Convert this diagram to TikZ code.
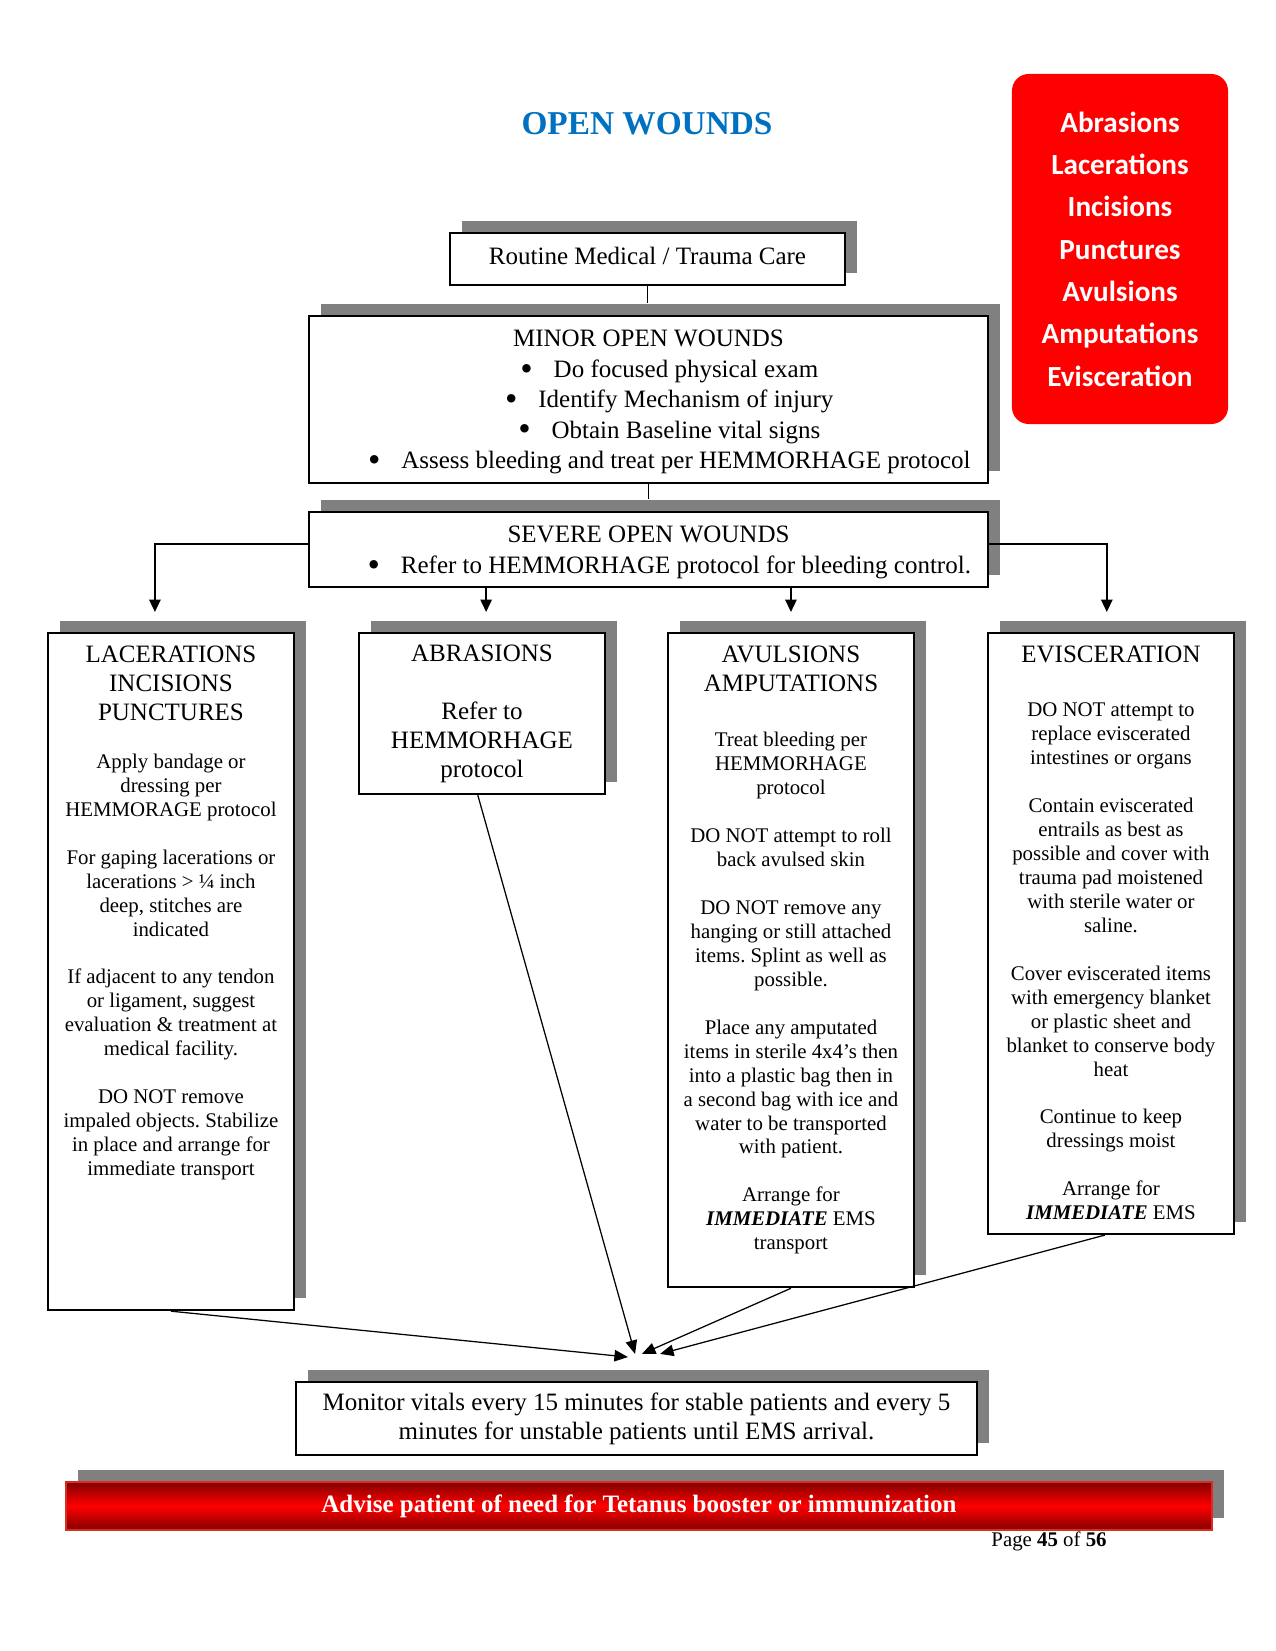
\documentclass[tikz,border=0pt]{standalone}
\usepackage{fontspec}
\setmainfont{Liberation Serif}
\newfontfamily\sidefont{Carlito}
\usetikzlibrary{shadows,arrows.meta}
\frenchspacing
\definecolor{titleblue}{RGB}{0,112,192}
\definecolor{shadegray}{RGB}{128,128,128}
\definecolor{sidered}{RGB}{255,0,0}
\definecolor{bandred}{RGB}{130,0,0}
\definecolor{bandedge}{RGB}{215,45,35}
\newcommand{\bul}[1]{\hspace*{20pt}\raisebox{-1.4pt}{\fontsize{17}{17}\selectfont\textbullet}\hspace{10pt}#1}
\newcommand{\hd}[1]{{\fontsize{12}{14}\selectfont #1}}
\tikzset{
  card/.style={draw=black, line width=1pt, fill=white, inner sep=0pt, align=center,
    drop shadow={shadow xshift=5.8pt, shadow yshift=5.8pt, fill=shadegray, opacity=1}},
  body/.style={align=center, inner sep=0pt, font=\fontsize{10}{11.5}\selectfont},
  sidebox/.style={fill=sidered, rounded corners=8pt, minimum width=103.7pt, minimum height=168pt,
    text=white, align=center, inner sep=0pt, font=\fontsize{14}{20.3}\sidefont\bfseries},
  banner/.style={draw=bandedge, line width=0.8pt, top color=bandred, bottom color=bandred,
    middle color=red, text=white, inner sep=0pt, font=\bfseries\fontsize{12}{14}\selectfont,
    drop shadow={shadow xshift=5.8pt, shadow yshift=5.8pt, fill=shadegray, opacity=1}},
  stemline/.style={line width=0.8pt},
  feedarrow/.style={line width=0.8pt, -{Triangle[length=6pt,width=5.5pt]}},
  mergearrow/.style={line width=0.6pt, -{Triangle[length=6.5pt,width=5.5pt]}}
}
\begin{document}
\begin{tikzpicture}[x=0.48pt, y=0.48pt]
\useasboundingbox (0,0) rectangle (1275,-1651);
% heading and the list of wound kinds
\node[inner sep=0pt, text=titleblue, font=\bfseries\fontsize{16}{19}\selectfont] (title) at (647,-124) {OPEN WOUNDS};
\node[sidebox] (kinds) at (1120,-249) {Abrasions\\Lacerations\\Incisions\\Punctures\\Avulsions\\Amputations\\Evisceration};
% top of the chart
\node[card, minimum width=189.6pt, minimum height=25pt, font=\fontsize{12}{14}\selectfont] (routine) at (647.5,-259) {Routine Medical / Trauma Care\rule[-3pt]{0pt}{0pt}};
\node[card, minimum width=326pt, minimum height=80pt, font=\fontsize{12}{14.6}\selectfont] (minor) at (648.5,-399.5) {\rule{0pt}{10.4pt}MINOR OPEN WOUNDS\\
\bul{Do focused physical exam}\\
\bul{Identify Mechanism of injury}\\
\bul{Obtain Baseline vital signs}\\
\bul{Assess bleeding and treat per HEMMORHAGE protocol}};
\node[card, minimum width=326pt, minimum height=36pt, font=\fontsize{12}{14.8}\selectfont] (severe) at (648.5,-549.5) {\rule{0pt}{10.8pt}SEVERE OPEN WOUNDS\\
\bul{Refer to HEMMORHAGE protocol for bleeding control.}};
% the four kinds of wound
\node[card, anchor=north west, minimum width=118pt, minimum height=325pt] (lac) at (47,-632) {};
\node[body, anchor=north] (lac text) at ([yshift=-6.6pt]lac.north) {\hd{LACERATIONS}\\[2.4pt]\hd{INCISIONS}\\[2.4pt]\hd{PUNCTURES}\\[11.5pt]
Apply bandage or\\dressing per\\HEMMORAGE protocol\\[11.4pt]
For gaping lacerations or\\lacerations > ¼ inch\\deep, stitches are\\indicated\\[11.4pt]
If adjacent to any tendon\\or ligament, suggest\\evaluation \& treatment at\\medical facility.\\[11.4pt]
DO NOT remove\\impaled objects. Stabilize\\in place and arrange for\\immediate transport};
\node[card, anchor=north west, minimum width=118pt, minimum height=77.3pt, font=\fontsize{12}{13.9}\selectfont] (abr) at (358,-632) {ABRASIONS\\[13.9pt]Refer to\\HEMMORHAGE\\protocol};
\node[card, anchor=north west, minimum width=118pt, minimum height=314pt] (avu) at (667,-632) {};
\node[body, anchor=north] (avu text) at ([yshift=-6.6pt]avu.north) {\hd{AVULSIONS}\\[2.4pt]\hd{AMPUTATIONS}\\[14.9pt]
Treat bleeding per\\HEMMORHAGE\\protocol\\[11.5pt]
DO NOT attempt to roll\\back avulsed skin\\[11.5pt]
DO NOT remove any\\hanging or still attached\\items. Splint as well as\\possible.\\[11.5pt]
Place any amputated\\items in sterile 4x4’s then\\into a plastic bag then in\\a second bag with ice and\\water to be transported\\with patient.\\[11.5pt]
Arrange for\\\textbf{\textit{IMMEDIATE}} EMS\\transport};
\node[card, anchor=north west, minimum width=118pt, minimum height=288.5pt] (evi) at (987,-632) {};
\node[body, anchor=north] (evi text) at ([yshift=-6.4pt]evi.north) {\hd{EVISCERATION}\\[14.6pt]
DO NOT attempt to\\replace eviscerated\\intestines or organs\\[11.5pt]
Contain eviscerated\\entrails as best as\\possible and cover with\\trauma pad moistened\\with sterile water or\\saline.\\[11.5pt]
Cover eviscerated items\\with emergency blanket\\or plastic sheet and\\blanket to conserve body\\heat\\[11.5pt]
Continue to keep\\dressings moist\\[11.5pt]
Arrange for\\\textbf{\textit{IMMEDIATE}} EMS};
% bottom of the chart
\node[card, minimum width=327pt, minimum height=35pt, font=\fontsize{12}{14}\selectfont] (monitor) at (636.5,-1418.5) {Monitor vitals every 15 minutes for stable patients and every 5\\minutes for unstable patients until EMS arrival.};
\node[banner, minimum width=550pt, minimum height=23pt] (tetanus) at (639,-1506) {Advise patient of need for Tetanus booster or immunization};
\node[inner sep=0pt, font=\fontsize{10}{12}\selectfont] (page) at (1049,-1541) {Page \textbf{45} of \textbf{56}};
% connectors
\draw[stemline, shorten >=5.8pt] (routine.south) -- (routine.south |- minor.north);
\draw[stemline, shorten >=5.8pt] (minor.south) -- (minor.south |- severe.north);
\draw[feedarrow] ([yshift=2.6pt]severe.west) -| ([xshift=-7.7pt,yshift=9.6pt]lac.north);
\draw[feedarrow] ([xshift=2pt]severe.south -| abr.north) -- ([xshift=2pt,yshift=9.6pt]abr.north);
\draw[feedarrow] (severe.south -| avu.north) -- ([yshift=9.6pt]avu.north);
\draw[feedarrow] ([yshift=2.6pt]severe.east) -| ([xshift=-2pt,yshift=9.6pt]evi.north);
\draw[mergearrow] (lac.south) -- ([xshift=-4.1pt,yshift=11.5pt]monitor.north);
\draw[mergearrow] ([xshift=-2pt]abr.south) -- ([xshift=-0.7pt,yshift=13pt]monitor.north);
\draw[mergearrow] (avu.south) -- ([xshift=2.6pt,yshift=13pt]monitor.north);
\draw[mergearrow] ([xshift=-3pt]evi.south) -- ([xshift=11.3pt,yshift=13pt]monitor.north);
\end{tikzpicture}
\end{document}
